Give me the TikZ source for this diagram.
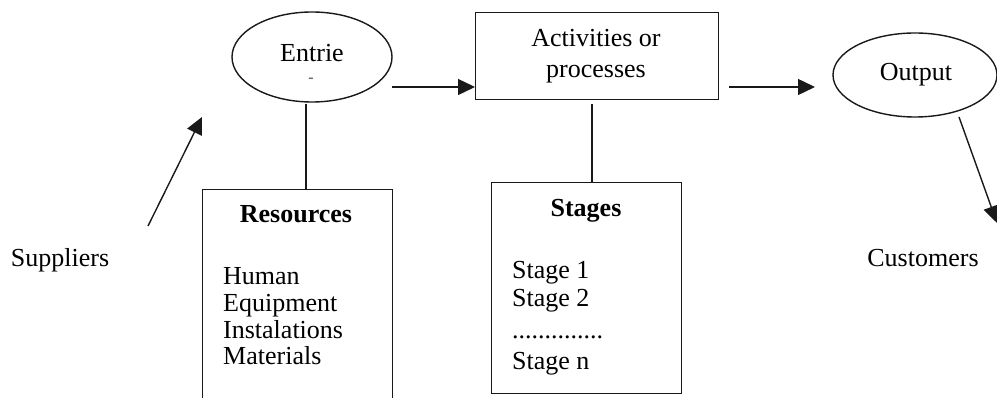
\documentclass[tikz,border=0pt]{standalone}
\usepackage{fontspec}
\setmainfont{Liberation Serif}
\usetikzlibrary{shapes.geometric,arrows.meta}
\begin{document}
\begin{tikzpicture}[x=1pt,y=-1pt,
  every node/.style={font=\fontsize{26}{26.7}\selectfont},
  ln/.style={line width=1.4pt, draw=black!90},
  arr/.style={ln, -{Triangle[length=17pt,width=16pt]}},
  oval/.style={ellipse, ln, inner sep=0pt},
  boxx/.style={rectangle, ln, inner sep=0pt, anchor=north west},
  txt/.style={anchor=base, inner sep=0pt},
  ltxt/.style={anchor=base west, inner sep=0pt}]
\useasboundingbox (0,0) rectangle (997,398);
% shapes
\node[oval, minimum width=160pt, minimum height=90pt] (ent) at (312,57) {};
\node[oval, minimum width=164pt, minimum height=84pt] (out) at (915,75) {};
\node[boxx, minimum width=243pt, minimum height=87pt] (act) at (475,12) {};
\node[boxx, minimum width=190pt, minimum height=225pt] (res) at (202,189) {};
\node[boxx, minimum width=190pt, minimum height=211pt] (stg) at (491,182) {};
% texts
\node[txt] (entt) at (312,62) {Entrie};
\node[txt, font=\fontsize{16}{16}\selectfont, text=black!70] (entm) at (311,83) {-};
\node[txt] (act1) at (596,47) {Activities or};
\node[txt] (act2) at (596,78) {processes};
\node[txt] (outt) at (916,81) {Output};
\node[txt] (sup) at (60,267) {Suppliers};
\node[txt] (cus) at (923,267) {Customers};
\node[txt, font=\fontsize{26}{26.7}\selectfont\bfseries] (rest) at (296,223) {Resources};
\node[ltxt] (r1) at (223,285) {Human};
\node[ltxt] (r2) at (223,312) {Equipment};
\node[ltxt] (r3) at (223,338) {Instalations};
\node[ltxt] (r4) at (223,365) {Materials};
\node[txt, font=\fontsize{26}{26.7}\selectfont\bfseries] (stgt) at (586,217) {Stages};
\node[ltxt] (s1) at (512,279) {Stage 1};
\node[ltxt] (s2) at (512,307) {Stage 2};
\node[ltxt] (s3) at (512,339) {..............};
\node[ltxt] (s4) at (512,370) {Stage n};
% connector coordinates
\coordinate (a1s) at (392,87);
\coordinate (a2s) at (729,87);
\coordinate (a2e) at (815,87);
\coordinate (a3s) at (959,117);
\coordinate (a3e) at (997,223);
\coordinate (sups) at (148,226);
\coordinate (supe) at (202,117);
\coordinate (l1) at (306,0);
\coordinate (l2) at (592,0);
% connectors
\draw[arr] (a1s) -- (act.west |- a1s);
\draw[arr] (a2s) -- (a2e);
\draw[arr] (a3s) -- (a3e);
\draw[arr] (sups) -- (supe);
\draw[ln] ([yshift=-1pt]ent.south -| l1) -- (res.north -| l1);
\draw[ln] ([yshift=-4pt]act.south -| l2) -- (stg.north -| l2);
\end{tikzpicture}
\end{document}
